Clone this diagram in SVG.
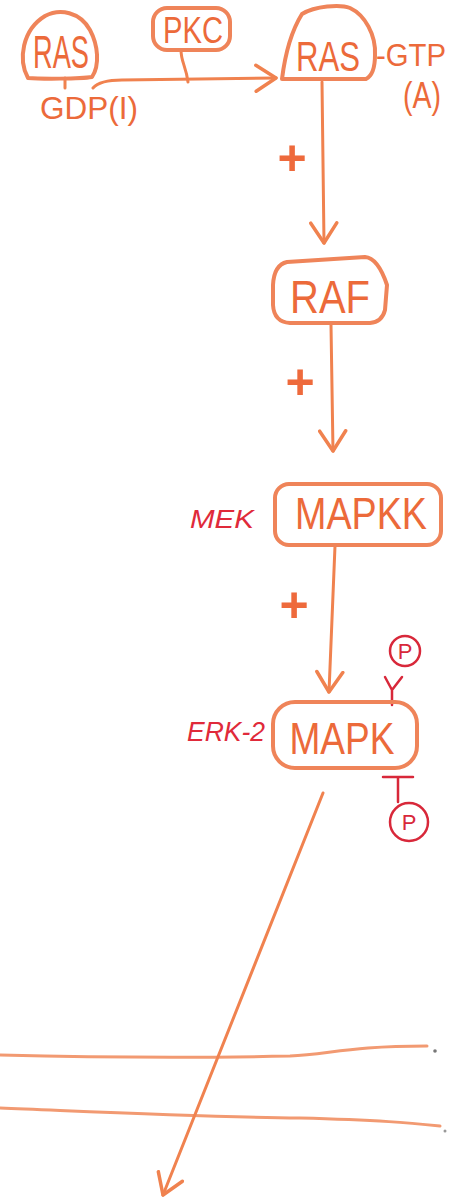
<svg xmlns="http://www.w3.org/2000/svg" width="454" height="1202" viewBox="0 0 454 1202">
<style>
.box{fill:none;stroke:#ef8459;stroke-width:4;stroke-linejoin:round}
.con{fill:none;stroke:#f0824f;stroke-width:3;stroke-linecap:round;stroke-linejoin:round}
.lbl{font-family:"Liberation Sans",Arial,sans-serif;fill:#ec6a3a}
.red{font-family:"Liberation Sans",Arial,sans-serif;fill:#e02a3a;font-style:italic}
.ph{fill:none;stroke:#d8283a;stroke-width:2.5;stroke-linecap:round}
.pt{font-family:"Liberation Sans",Arial,sans-serif;fill:#d8283a;font-size:22px;text-anchor:middle}
.plus{font-family:"Liberation Sans",Arial,sans-serif;fill:#ee6a3c;font-size:50px;font-weight:bold;text-anchor:middle}
.mem{fill:none;stroke:#f29a72;stroke-width:3;stroke-linecap:round}
</style>
<defs>
<marker id="arr" viewBox="0 0 26 30" refX="22" refY="15" markerWidth="26" markerHeight="30" markerUnits="userSpaceOnUse" orient="auto">
<path d="M2,2 L22,15 L2,28" fill="none" stroke="#f0824f" stroke-width="3.5" stroke-linecap="round" stroke-linejoin="round"/>
</marker>
</defs>
<rect width="454" height="1202" fill="#ffffff"/>

<g id="membrane">
<path class="mem" d="M0,1055 C80,1057 200,1058 290,1056 C330,1054 350,1046 427,1046"/>
<path class="mem" d="M0,1108 C100,1112 200,1117 300,1118 C380,1120 410,1123 440,1126"/>
<circle cx="435" cy="1051" r="1.8" fill="#777"/>
<circle cx="445" cy="1131" r="1.5" fill="#999"/>
</g>

<g id="connectors">
<path class="con" d="M65,78 L65,88"/>
<path class="con" d="M181,50 C181,62 186,66 188,82"/>
<path class="con" d="M93,88 Q100,80 122,80 L276,78" marker-end="url(#arr)"/>
<path class="con" d="M322,82 L324,243" marker-end="url(#arr)"/>
<path class="con" d="M331,325 L333,451" marker-end="url(#arr)"/>
<path class="con" d="M335,546 L329,692" marker-end="url(#arr)"/>
<path class="con" d="M323,793 L163,1195" marker-end="url(#arr)"/>
<text class="plus" x="292" y="175">+</text>
<text class="plus" x="300" y="399">+</text>
<text class="plus" x="294" y="622">+</text>
<path class="ph" d="M392,705 L392,690 M392,690 L385,677 M392,690 L402,677"/>
<path class="ph" d="M383,777 L413,777 M398,777 L398,802" stroke-width="3"/>
</g>

<g id="ras-gdp">
<path class="box" d="M28,78 C18,60 22,30 45,16 C60,8 80,12 90,30 C98,45 100,65 92,77 C80,79 40,79 28,78 Z"/>
<text class="lbl" x="61" y="68" font-size="46" text-anchor="middle" textLength="56" lengthAdjust="spacingAndGlyphs">RAS</text>
<text class="lbl" x="40" y="119" font-size="32" textLength="98" lengthAdjust="spacingAndGlyphs">GDP(I)</text>
</g>

<g id="pkc">
<rect class="box" x="153" y="8" width="77" height="42" rx="14"/>
<text class="lbl" x="193" y="43" font-size="36" text-anchor="middle" textLength="60" lengthAdjust="spacingAndGlyphs">PKC</text>
</g>

<g id="ras-gtp">
<path class="box" d="M282,79 C285,55 292,30 302,14 C315,6 340,4 350,8 C365,15 376,35 375,55 C375,68 372,76 366,79 Z"/>
<text class="lbl" x="328" y="71" font-size="42" text-anchor="middle" textLength="64" lengthAdjust="spacingAndGlyphs">RAS</text>
<text class="lbl" x="376" y="66" font-size="32" textLength="70" lengthAdjust="spacingAndGlyphs">-GTP</text>
<text class="lbl" x="403" y="108" font-size="36" textLength="38" lengthAdjust="spacingAndGlyphs">(A)</text>
</g>

<g id="raf">
<path class="box" d="M287,262 L365,257 Q378,258 387,285 L385,310 Q382,322 370,323 L290,323 Q274,322 273,305 L273,285 Q274,265 287,262 Z"/>
<text class="lbl" x="330" y="313" font-size="46" text-anchor="middle" textLength="80" lengthAdjust="spacingAndGlyphs">RAF</text>
</g>

<g id="mapkk">
<rect class="box" x="275" y="484" width="166" height="61" rx="14"/>
<text class="lbl" x="361" y="529" font-size="44" text-anchor="middle" textLength="132" lengthAdjust="spacingAndGlyphs">MAPKK</text>
<text class="red" x="190" y="528" font-size="26" textLength="64" lengthAdjust="spacingAndGlyphs">MEK</text>
</g>

<g id="mapk">
<rect class="box" x="273" y="702" width="144" height="66" rx="22"/>
<text class="lbl" x="342" y="754" font-size="44" text-anchor="middle" textLength="105" lengthAdjust="spacingAndGlyphs">MAPK</text>
<text class="red" x="187" y="741" font-size="28" textLength="78" lengthAdjust="spacingAndGlyphs">ERK-2</text>
</g>

<g id="p-top">
<circle class="ph" cx="405" cy="651" r="15"/>
<text class="pt" x="405" y="659">P</text>
</g>

<g id="p-bottom">
<circle class="ph" cx="409" cy="822" r="19"/>
<text class="pt" x="409" y="830">P</text>
</g>
</svg>
